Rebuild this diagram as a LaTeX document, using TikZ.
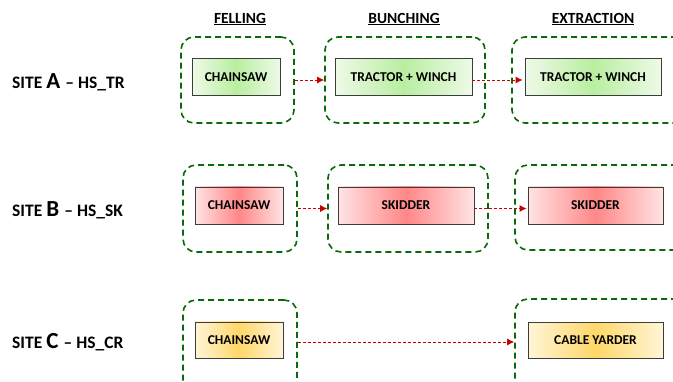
\documentclass[tikz,border=0pt]{standalone}
\usepackage{fontspec}
\setmainfont{Carlito}
\usepackage{tikz}
\usetikzlibrary{positioning,calc,arrows.meta}
\definecolor{grpline}{RGB}{10,105,10}
\definecolor{boxline}{RGB}{60,60,60}
\definecolor{flowred}{RGB}{200,0,0}
\definecolor{gIn}{RGB}{185,238,160}
\definecolor{gOut}{RGB}{238,250,232}
\definecolor{rIn}{RGB}{255,135,135}
\definecolor{rOut}{RGB}{255,228,228}
\definecolor{yIn}{RGB}{255,215,105}
\definecolor{yOut}{RGB}{255,245,215}
\tikzset{
	grp/.style={draw=grpline,line width=1.6pt,dash pattern=on 6pt off 4pt,rounded corners=13pt,inner sep=0pt},
	mach/.style={draw=boxline,line width=0.9pt,left color=#1Out,right color=#1Out,middle color=#1In,
		minimum height=37pt,inner sep=0pt,font=\fontsize{13.5}{14}\selectfont\bfseries},
	flow/.style={draw=flowred,line width=0.9pt,dash pattern=on 3pt off 2pt,-{Latex[length=7pt,width=7pt]}},
	head/.style={font=\fontsize{15.5}{16}\selectfont\bfseries},
	site/.style={anchor=base west,inner sep=0pt}
}
\newcommand{\sitelab}[2]{{\fontsize{17.5}{17}\selectfont\bfseries SITE \fontsize{23}{22}\selectfont #1 \fontsize{17.5}{17}\selectfont -- #2}}

\begin{document}
\begin{tikzpicture}[x=1pt,y=-1pt]
\useasboundingbox (0,0) rectangle (673,382);
\clip (0,0) rectangle (673,382);

%Titres des colonnes
\node[head] (hFell) at (240,19) {\underline{FELLING}};
\node[head] (hBunch) at (404,19) {\underline{BUNCHING}};
\node[head] (hExtr) at (593,19) {\underline{EXTRACTION}};

%Noms des sites
\node[site] (siteA) at (12,89) {\sitelab{A}{HS\_TR}};
\node[site] (siteB) at (12,217) {\sitelab{B}{HS\_SK}};
\node[site] (siteC) at (12,349) {\sitelab{C}{HS\_CR}};

%Groupes
\node[grp,minimum width=113pt,minimum height=86pt] (gA1) at (237.5,80) {};
\node[grp,minimum width=160pt,minimum height=86pt] (gA2) at (405,80) {};
\node[grp,minimum width=178pt,minimum height=86pt] (gA3) at (601,80) {};
\node[grp,minimum width=114pt,minimum height=87pt] (gB1) at (240,208.5) {};
\node[grp,minimum width=160pt,minimum height=87pt] (gB2) at (408,208.5) {};
\node[grp,minimum width=175pt,minimum height=85pt] (gB3) at (602.5,207.5) {};
\node[grp,minimum width=114pt,minimum height=100pt] (gC1) at (240,350) {};
\node[grp,minimum width=175pt,minimum height=100pt] (gC3) at (602.5,349) {};

%Machines
\node[mach=g,minimum width=88pt] (mA1) at (236,77) {CHAINSAW};
\node[mach=g,minimum width=137pt] (mA2) at (403.5,77) {TRACTOR + WINCH};
\node[mach=g,minimum width=136pt] (mA3) at (593,77) {TRACTOR + WINCH};
\node[mach=r,minimum width=88pt] (mB1) at (239,205.5) {CHAINSAW};
\node[mach=r,minimum width=136pt] (mB2) at (406,205.5) {SKIDDER};
\node[mach=r,minimum width=135pt] (mB3) at (595.5,205.5) {SKIDDER};
\node[mach=y,minimum width=88pt,minimum height=36pt] (mC1) at (239,340) {CHAINSAW};
\node[mach=y,minimum width=135pt,minimum height=36pt] (mC3) at (595.5,340.5) {CABLE YARDER};

%Fleches
\draw[flow] (gA1.east) -- (gA2.west);
\draw[flow,shorten >=2pt] ([yshift=-3pt]mA2.east) -- ([yshift=-3pt]mA3.west);
\draw[flow] (gB1.east) -- (gB2.west);
\draw[flow,shorten >=1pt] ([yshift=-3pt]mB2.east) -- ([yshift=-3pt]mB3.west);
\draw[flow] ($(mC1.east -| gC1.east)+(0,2)$) -- ($(mC1.east -| gC3.west)+(0,2)$);

\end{tikzpicture}
\end{document}
